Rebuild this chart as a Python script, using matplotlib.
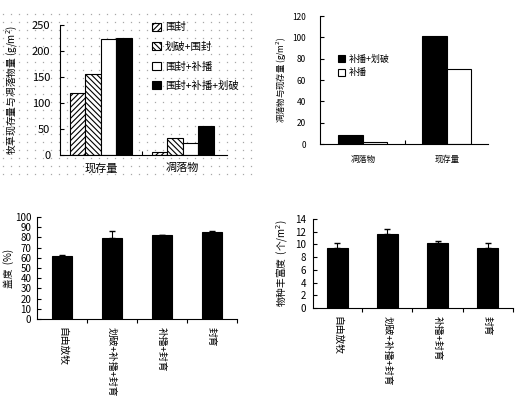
import numpy as np
import matplotlib
matplotlib.use("Agg")
import matplotlib.pyplot as plt
from matplotlib.patches import Patch

plt.rcParams['font.family'] = ['Noto Sans CJK SC', 'DejaVu Sans']
plt.rcParams['hatch.linewidth'] = 0.8

W, H = 516, 397

# panel 1: standing crop and litter
p1_cats = ["现存量", "凋落物"]
p1_series = ["围封", "划破+围封", "围封+补播", "围封+补播+划破"]
p1_vals = [[120, 5], [155, 33], [224, 24], [225, 55]]

# panel 2
p2_cats = ["凋落物", "现存量"]
p2_series = ["补播+划破", "补播"]
p2_vals = [[8, 101], [1.5, 70]]

# panel 3: coverage
p3_cats = ["自由放牧", "划破+补播+封育", "补播+封育", "封育"]
p3_vals = [62, 79, 82, 85]
p3_err = [0.8, 7, 0.6, 1.5]

# panel 4: species richness
p4_cats = ["自由放牧", "划破+补播+封育", "补播+封育", "封育"]
p4_vals = [9.5, 11.6, 10.3, 9.4]
p4_err = [0.8, 0.9, 0.3, 0.9]

fig = plt.figure(figsize=(W / 100, H / 100), dpi=100)


def px_axes(left, top, right, bottom, **kw):
    return fig.add_axes([left / W, 1 - bottom / H, (right - left) / W, (bottom - top) / H], **kw)


def style(ax, fs=7, pad=5, minor_dir="in"):
    for s in ("top", "right"):
        ax.spines[s].set_visible(False)
    ax.tick_params(axis="y", direction="in", length=3, width=0.8, labelsize=fs, pad=pad)
    ax.tick_params(axis="x", which="major", length=0, labelsize=fs)
    ax.tick_params(axis="x", which="minor", direction=minor_dir, length=3, width=0.8)


# dotted background behind panel 1
bg = px_axes(0, 12, 256, 176, zorder=-5)
bg.set_xlim(0, 256); bg.set_ylim(176, 12)
bg.axis("off")
dot_x = np.arange(3, 256, 8)
for yy in np.arange(14, 176, 8):
    bg.plot(dot_x, np.full(len(dot_x), yy), "s", ms=0.9, mew=0, color="#a8a8a8")

# ---------------- panel 1
ax1 = px_axes(60, 25, 227, 155)
ax1.patch.set_alpha(0)
x = np.arange(len(p1_cats))
w = 0.19
hatches = ["//////", "\\\\\\\\\\\\", "", ""]
colors = ["white", "white", "white", "black"]
for i, (lab, vals) in enumerate(zip(p1_series, p1_vals)):
    ax1.bar(x + (i - 1.5) * w, vals, w, color=colors[i], edgecolor="black",
            hatch=hatches[i], lw=0.8, label=lab)
ax1.set_xlim(-0.5, 1.54)
ax1.set_ylim(0, 250)
ax1.set_yticks(range(0, 251, 50))
ax1.set_xticks(x)
ax1.set_xticklabels(p1_cats, fontsize=8)
ax1.set_xticks([0.5], minor=True)
style(ax1, fs=8, pad=7)
ax1.tick_params(axis="x", which="major", pad=6)
ax1.set_ylabel("牧草现存量与凋落物量 (g/m$^2$)", fontsize=7)
ax1.yaxis.set_label_coords(-0.24, 0.5)
handles = [Patch(facecolor=c, edgecolor="black", hatch=h, lw=0.8) for c, h in zip(colors, hatches)]
fig.legend(handles, p1_series, loc="upper left", bbox_to_anchor=(143 / W, 1 - 13 / H),
           frameon=False, fontsize=7.5, handlelength=0.8, handleheight=0.8,
           labelspacing=0.9, handletextpad=0.4)

# ---------------- panel 2
ax2 = px_axes(320, 16, 488, 144)
x = np.arange(len(p2_cats))
w = 0.29
ax2.bar(x - w / 2, p2_vals[0], w, color="black", edgecolor="black", lw=0.8, label=p2_series[0])
ax2.bar(x + w / 2, p2_vals[1], w, color="white", edgecolor="black", lw=0.8, label=p2_series[1])
ax2.set_xlim(-0.51, 1.49)
ax2.set_ylim(0, 120)
ax2.set_yticks(range(0, 121, 20))
ax2.set_xticks(x)
ax2.set_xticklabels(p2_cats, fontsize=6.5)
ax2.set_xticks([0.5], minor=True)
style(ax2, fs=6, pad=10)
ax2.tick_params(axis="x", which="major", pad=8)
ax2.set_ylabel("凋落物与现存量 (g/m$^2$)", fontsize=6)
ax2.yaxis.set_label_coords(-0.185, 0.5)
ax2.legend(loc="upper left", bbox_to_anchor=(0.06, 0.76), frameon=False, fontsize=6.5,
           handlelength=0.8, handleheight=0.8, labelspacing=0.5, handletextpad=0.4)

# ---------------- panel 3
ax3 = px_axes(37, 217, 237, 319)
x = np.arange(len(p3_cats))
ax3.bar(x, p3_vals, 0.41, color="black", edgecolor="black", lw=0.8,
        yerr=[np.zeros(len(p3_err)), p3_err], error_kw=dict(ecolor="black", elinewidth=0.8, capsize=2.5))
ax3.set_xlim(-0.5, 3.5)
ax3.set_ylim(0, 100)
ax3.set_yticks(range(0, 101, 10))
ax3.set_xticks(x)
ax3.set_xticklabels(p3_cats, rotation=-90, fontsize=7, va="top")
ax3.set_xticks(np.arange(0.5, 3.6, 1), minor=True)
style(ax3, fs=7, pad=4, minor_dir="out")
ax3.tick_params(axis="x", which="major", pad=6)
ax3.set_ylabel("盖度  (%)", fontsize=7)
ax3.yaxis.set_label_coords(-0.115, 0.5)

# ---------------- panel 4
ax4 = px_axes(313, 219, 513, 308)
x = np.arange(len(p4_cats))
ax4.bar(x, p4_vals, 0.42, color="black", edgecolor="black", lw=0.8,
        yerr=[np.zeros(len(p4_err)), p4_err], error_kw=dict(ecolor="black", elinewidth=0.8, capsize=2.5))
ax4.set_xlim(-0.48, 3.5)
ax4.set_ylim(0, 14)
ax4.set_yticks(range(0, 15, 2))
ax4.set_xticks(x)
ax4.set_xticklabels(p4_cats, rotation=-90, fontsize=7, va="top")
ax4.set_xticks(np.arange(0.5, 3.6, 1), minor=True)
style(ax4, fs=7, pad=5, minor_dir="out")
ax4.tick_params(axis="x", which="major", pad=6)
ax4.set_ylabel("物种丰富度  (个/m$^2$)", fontsize=7)
ax4.yaxis.set_label_coords(-0.115, 0.5)

fig.savefig("out.png", dpi=100)
